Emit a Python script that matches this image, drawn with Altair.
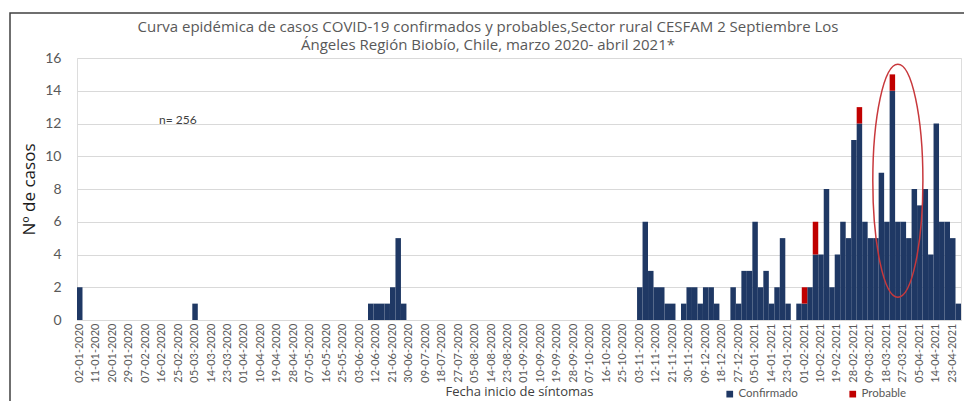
import altair as alt
import pandas as pd

# ---- data (3-day bins) ----
start_date = "2020-01-02"
n_bins = 161

bar_dates = [
    "02-01-2020", "05-03-2020",
    "09-06-2020", "12-06-2020", "15-06-2020", "18-06-2020", "21-06-2020", "24-06-2020", "27-06-2020",
    "03-11-2020", "06-11-2020", "09-11-2020", "12-11-2020", "15-11-2020", "18-11-2020", "21-11-2020",
    "27-11-2020", "30-11-2020", "03-12-2020", "06-12-2020", "09-12-2020", "12-12-2020", "15-12-2020",
    "24-12-2020", "27-12-2020", "30-12-2020", "02-01-2021", "05-01-2021", "08-01-2021", "11-01-2021",
    "14-01-2021", "17-01-2021", "20-01-2021", "23-01-2021",
    "29-01-2021", "01-02-2021", "04-02-2021", "07-02-2021", "10-02-2021", "13-02-2021", "16-02-2021",
    "19-02-2021", "22-02-2021", "25-02-2021", "28-02-2021", "03-03-2021", "06-03-2021", "09-03-2021",
    "12-03-2021", "15-03-2021", "18-03-2021", "21-03-2021", "24-03-2021", "27-03-2021", "30-03-2021",
    "02-04-2021", "05-04-2021", "08-04-2021", "11-04-2021", "14-04-2021", "17-04-2021", "20-04-2021",
    "23-04-2021", "26-04-2021",
]
confirmados = [
    2, 1,
    1, 1, 1, 1, 2, 5, 1,
    2, 6, 3, 2, 2, 1, 1,
    1, 2, 2, 1, 2, 2, 1,
    2, 1, 3, 3, 6, 2, 3, 1, 2, 5, 1,
    1, 1, 2, 4, 4, 8, 2, 4, 6, 5, 11, 12, 6, 5, 5, 9, 6, 14, 6, 6, 5, 8, 7, 8, 4, 12, 6, 6, 5, 1,
]
probable_dates = ["01-02-2021", "07-02-2021", "03-03-2021", "21-03-2021"]
probables = [1, 2, 1, 1]

series = ["Confirmado", "Probable"]
colors = ["#1f3864", "#c00000"]

title_lines = [
    "Curva epidémica de casos COVID-19 confirmados y probables,Sector rural CESFAM 2 Septiembre Los",
    "Ángeles Región Biobío, Chile, marzo 2020-  abril 2021*",
]
y_ticks = [0, 2, 4, 6, 8, 10, 12, 14, 16]
n_label = "n= 256"
n_label_date = "16-02-2020"
n_label_y = 12.2
ellipse_date = "24-03-2021"
ellipse_y = 8.5

# ---- build tables ----
all_dates = list(pd.date_range(start_date, periods=n_bins, freq="3D").strftime("%d-%m-%Y"))
label_dates = all_dates[::3]

rows = []
for d, v in zip(bar_dates, confirmados):
    rows.append({"fecha": d, "tipo": "Confirmado", "casos": v, "orden": 0})
for d, v in zip(probable_dates, probables):
    rows.append({"fecha": d, "tipo": "Probable", "casos": v, "orden": 1})
df = pd.DataFrame(rows)

FONT = "Lato"
TFONT = "Open Sans"
GREY = "#595959"

x_axis = alt.Axis(
    values=label_dates, labelAngle=-90, labelFontSize=11, labelColor=GREY,
    labelFont=FONT, ticks=False, domain=False, labelPadding=3, labelOverlap=False,
    title="Fecha inicio de síntomas", titleFont=TFONT, titleFontSize=13,
    titleFontWeight="normal", titleColor="#404040", titlePadding=3,
)
x_scale = alt.Scale(domain=all_dates, paddingInner=0, paddingOuter=0)
y_axis = alt.Axis(
    values=y_ticks, grid=True, gridColor="#d9d9d9", domain=False,
    ticks=False, labelFontSize=14, labelColor=GREY, labelFont=FONT, labelPadding=16,
    labelOverlap=False,
    title="Nº de casos", titleFont=TFONT, titleFontSize=17, titleFontWeight="normal",
    titleColor="#1a1a1a", titlePadding=6,
)
y_scale = alt.Scale(domain=[0, 16], nice=False)

bars = alt.Chart(df).mark_bar(stroke=None).encode(
    x=alt.X("fecha:N", sort=all_dates, scale=x_scale, axis=x_axis),
    y=alt.Y("sum(casos):Q", stack="zero", scale=y_scale, axis=y_axis),
    color=alt.Color(
        "tipo:N",
        scale=alt.Scale(domain=series, range=colors),
        legend=alt.Legend(
            title=None, orient="none", direction="horizontal", legendX=647, legendY=330,
            symbolType="square", symbolSize=45, labelFont=FONT, labelFontSize=11.5,
            labelColor=GREY, columnPadding=49, symbolStrokeWidth=0, labelOffset=3,
        ),
    ),
    order=alt.Order("orden:Q", sort="ascending"),
)

n_text = alt.Chart(pd.DataFrame({"fecha": [n_label_date], "y": [n_label_y], "t": [n_label]})).mark_text(
    align="left", baseline="middle", font=FONT, fontSize=12, color="#404040", dx=-3
).encode(
    x=alt.X("fecha:N", sort=all_dates, scale=x_scale, axis=x_axis),
    y=alt.Y("y:Q", scale=y_scale, axis=y_axis),
    text="t:N",
)

ellipse_path = ("M 0 -1 C 0.1187 -1 0.215 -0.5523 0.215 0 C 0.215 0.5523 0.1187 1 0 1 "
                "C -0.1187 1 -0.215 0.5523 -0.215 0 C -0.215 -0.5523 -0.1187 -1 0 -1 Z")
ellipse = alt.Chart(pd.DataFrame({"fecha": [ellipse_date], "y": [ellipse_y]})).mark_point(
    shape=ellipse_path, size=54289, filled=False, stroke="#c8383c", strokeWidth=1.5, opacity=1
).encode(
    x=alt.X("fecha:N", sort=all_dates, scale=x_scale, axis=x_axis),
    y=alt.Y("y:Q", scale=y_scale, axis=y_axis),
)

frame = alt.Chart(pd.DataFrame({"a": [0]})).mark_rect(
    fill=None, stroke="#404040", strokeWidth=1.5
).encode(x=alt.value(-67), x2=alt.value(890), y=alt.value(-45), y2=alt.value(400))

chart = alt.layer(bars, n_text, ellipse, frame).properties(
    width=884, height=262,
    title=alt.TitleParams(
        text=title_lines, font=TFONT, fontSize=15, fontWeight="normal", color=GREY,
        anchor="middle", frame="group", dx=-31, offset=-41, lineHeight=18,
    ),
    autosize=alt.AutoSizeParams(type="none"),
    padding={"left": 69, "top": 50, "right": 3, "bottom": 81},
).configure_view(stroke=None).configure(background="white")

chart.save("out.html", embed_options={"renderer": "svg", "actions": False})
